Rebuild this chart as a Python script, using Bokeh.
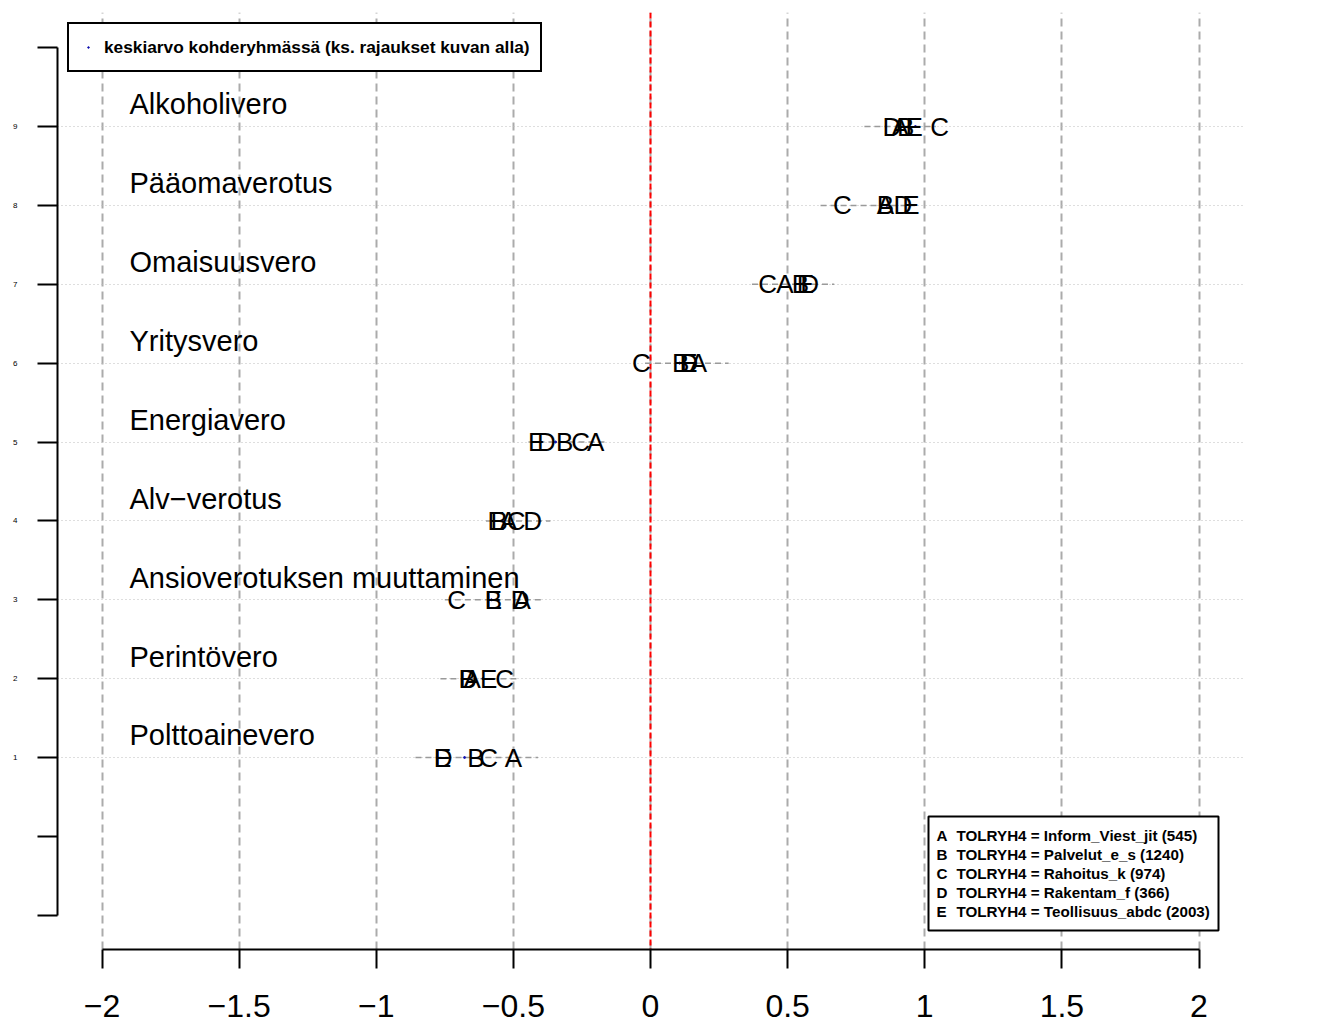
from bokeh.plotting import figure
from bokeh.models import (ColumnDataSource, FixedTicker, Span, BoxAnnotation, Label,
                          Legend, LegendItem)
from bokeh.core.properties import value
from bokeh.embed import file_html
from bokeh.resources import INLINE

# ---------------- data ----------------
rows = [9, 8, 7, 6, 5, 4, 3, 2, 1]
topics = ["Alkoholivero", "Pääomaverotus", "Omaisuusvero", "Yritysvero", "Energiavero",
          "Alv\u2212verotus", "Ansioverotuksen muuttaminen", "Perintövero", "Polttoainevero"]
n_values = ["7090", "7097", "7053", "7036", "7077", "7083", "7100", "7088", "7092"]

group_letters = ["A", "B", "C", "D", "E"]
group_labels = ["TOLRYH4 = Inform_Viest_jit (545)",
                "TOLRYH4 = Palvelut_e_s (1240)",
                "TOLRYH4 = Rahoitus_k (974)",
                "TOLRYH4 = Rakentam_f (366)",
                "TOLRYH4 = Teollisuus_abdc (2003)"]

mean_A = [0.91, 0.857, 0.49, 0.175, -0.20, -0.518, -0.468, -0.65, -0.50]
mean_B = [0.93, 0.857, 0.547, 0.11, -0.313, -0.552, -0.573, -0.667, -0.637]
mean_C = [1.054, 0.70, 0.427, -0.033, -0.255, -0.49, -0.707, -0.532, -0.59]
mean_D = [0.88, 0.92, 0.58, 0.14, -0.38, -0.43, -0.475, -0.666, -0.756]
mean_E = [0.961, 0.95, 0.565, 0.14, -0.415, -0.563, -0.573, -0.59, -0.758]
group_means = [mean_A, mean_B, mean_C, mean_D, mean_E]

overall_mean = [0.966, 0.862, 0.528, 0.106, -0.346, -0.54, -0.58, -0.611, -0.678]
ci_low = [0.78, 0.62, 0.37, -0.02, -0.445, -0.60, -0.75, -0.766, -0.857]
ci_high = [1.04, 0.965, 0.67, 0.285, -0.157, -0.365, -0.40, -0.475, -0.41]

x_ticks = [-2, -1.5, -1, -0.5, 0, 0.5, 1, 1.5, 2]
x_tick_labels = ["\u22122", "\u22121.5", "\u22121", "\u22120.5", "0", "0.5", "1", "1.5", "2"]
y_ticks = [-1, 0, 1, 2, 3, 4, 5, 6, 7, 8, 9, 10]
y_tick_labels = ["", "", "1", "2", "3", "4", "5", "6", "7", "8", "9", ""]

legend_text = "keskiarvo kohderyhmässä (ks. rajaukset kuvan alla)"

# ---------------- layout helpers (page pixels -> data) ----------------
PX0, PXU = 650.0, 274.25
PY9, PYU = 126.0, 78.875
FRAME_TOP, FRAME_BOTTOM = 12, 949
CANVAS_H = 1034


def px2x(px):
    return (px - PX0) / PXU


def py2y(py):
    return 9 - (py - PY9) / PYU


FONT = value("Liberation Sans")

p = figure(width=1344, height=CANVAS_H,
           x_range=(px2x(57), px2x(1243)), y_range=(py2y(FRAME_BOTTOM), py2y(FRAME_TOP)),
           output_backend="svg", toolbar_location=None,
           min_border_left=57, min_border_right=101, min_border_top=FRAME_TOP,
           min_border_bottom=CANVAS_H - FRAME_BOTTOM)
p.outline_line_color = None
p.background_fill_color = "white"
p.border_fill_color = "white"

# x axis
xa = p.xaxis[0]
xa.ticker = FixedTicker(ticks=x_ticks)
xa.major_label_overrides = {float(t): l for t, l in zip(x_ticks, x_tick_labels)}
xa.bounds = (-2, 2)
xa.axis_line_width = 2
xa.axis_line_color = "black"
xa.major_tick_line_width = 2
xa.major_tick_line_color = "black"
xa.major_tick_in = 0
xa.major_tick_out = 19
xa.minor_tick_line_color = None
xa.major_label_text_font = "Liberation Sans"
xa.major_label_text_font_size = "32px"
xa.major_label_text_color = "black"
xa.major_label_standoff = 26

# y axis
ya = p.yaxis[0]
ya.ticker = FixedTicker(ticks=y_ticks)
ya.major_label_overrides = {float(t): l for t, l in zip(y_ticks, y_tick_labels)}
ya.bounds = (-1, 10)
ya.axis_line_width = 2
ya.axis_line_color = "black"
ya.major_tick_line_width = 2
ya.major_tick_line_color = "black"
ya.major_tick_in = 0
ya.major_tick_out = 20
ya.minor_tick_line_color = None
ya.major_label_text_font = "Liberation Sans"
ya.major_label_text_font_size = "8px"
ya.major_label_text_color = "black"
ya.major_label_standoff = 20

# grids
p.xgrid.ticker = FixedTicker(ticks=x_ticks)
p.xgrid.grid_line_color = "#ababab"
p.xgrid.grid_line_dash = "8 5"
p.xgrid.grid_line_width = 2
p.ygrid.ticker = FixedTicker(ticks=rows)
p.ygrid.grid_line_color = "#bdbdbd"
p.ygrid.grid_line_dash = "1 3"
p.ygrid.grid_line_width = 1

p.add_layout(Span(location=0, dimension="height", line_color="red", line_width=2,
                  line_dash="6 3", level="underlay"))

# grey interval segments
p.segment(x0=ci_low, y0=rows, x1=ci_high, y1=rows, line_color="#9a9a9a",
          line_width=1.5, line_dash="6 4")

# overall mean
r_mean = p.scatter(x=overall_mean, y=rows, marker="circle", size=2,
                   line_color="#1010b0", fill_color="#1010b0")

# row titles
p.text(x=[px2x(129)] * len(rows), y=[r + 0.28 for r in rows], text=topics,
       text_font=FONT, text_font_size="29px", text_align="left",
       text_baseline="middle", text_color="black")

# group letters
for letter, means in zip(group_letters, group_means):
    src = ColumnDataSource(dict(x=means, y=rows, t=[letter] * len(rows)))
    p.text(x="x", y="y", text="t", source=src, text_font=FONT, text_font_size="26px",
           text_align="center", text_baseline="middle", text_color="black")

# top-left legend
legend = Legend(items=[LegendItem(label=legend_text, renderers=[r_mean])],
                location="top_left", margin=10,
                border_line_color="black", border_line_width=2, border_line_alpha=1.0,
                background_fill_color="white", background_fill_alpha=1.0,
                label_text_font="Liberation Sans", label_text_font_style="bold",
                label_text_font_size="17.3px", label_text_color="black",
                padding=10, glyph_width=18, glyph_height=4, label_height=26,
                label_standoff=7, spacing=0)
p.add_layout(legend)

# group legend (bottom right)
p.add_layout(BoxAnnotation(left=px2x(928), right=px2x(1218), top=py2y(816), bottom=py2y(930),
                           fill_color="white", fill_alpha=1.0, line_color="black",
                           line_alpha=1.0, line_width=2))
for i, (letter, lab) in enumerate(zip(group_letters, group_labels)):
    for xpx, txt in ((936, letter), (956, lab)):
        p.add_layout(Label(x=px2x(xpx), y=py2y(835 + 19 * i), text=txt,
                           text_font="Liberation Sans", text_font_style="bold",
                           text_font_size="15.2px", text_baseline="middle", text_align="left",
                           text_color="black"))

# N values on the right
for r, n in zip(rows, n_values):
    p.add_layout(Label(x=px2x(1304), y=r, text=n, text_font="Liberation Sans",
                       text_font_size="20px", text_align="center", text_baseline="middle",
                       text_color="black"))
p.add_layout(Label(x=px2x(1260), y=py2y(481), text="N=", text_font="Liberation Sans",
                   text_font_size="26px", text_align="center", text_baseline="middle",
                   text_color="#006400"))

open("out.html", "w").write(file_html(p, INLINE))
